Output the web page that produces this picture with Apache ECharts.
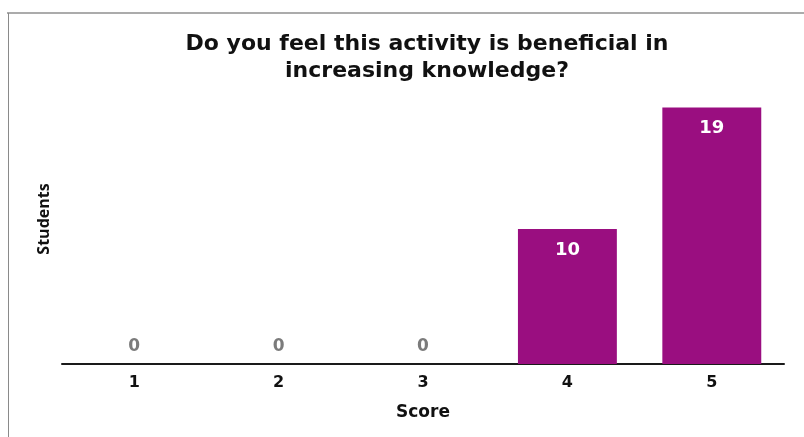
<!DOCTYPE html>
<html>
<head>
<meta charset="utf-8">
<script src="https://cdn.jsdelivr.net/npm/echarts@6/dist/echarts.min.js"></script>
<style>
html,body{margin:0;padding:0;background:#fff;}
#c{width:804px;height:437px;}
</style>
</head>
<body>
<div id="c"></div>
<script>
const categories = ['1', '2', '3', '4', '5'];
const students = [0, 0, 0, 10, 19];
const titleText = 'Do you feel this activity is beneficial in\nincreasing knowledge?';
const xName = 'Score';
const yName = 'Students';

const chart = echarts.init(document.getElementById('c'), null, {renderer: 'canvas'});
const font = '"DejaVu Sans", "Open Sans", sans-serif';
const fontOS = '"Open Sans", "DejaVu Sans", sans-serif';

const barData = students.map(v => {
  if (v === 0) {
    return {value: v, label: {position: 'top', distance: 9, color: '#7b7b7b', fontSize: 17}};
  }
  return {value: v, label: {position: 'insideTop', distance: 12, color: '#ffffff'}};
});

chart.setOption({
  animation: false,
  backgroundColor: '#ffffff',
  title: {
    text: titleText,
    left: 422,
    top: 26,
    textAlign: 'center',
    textStyle: {fontFamily: font, fontSize: 22, fontWeight: 'bold', color: '#111', lineHeight: 27}
  },
  graphic: [
    {type: 'line', shape: {x1: 7, y1: 13, x2: 804, y2: 13}, style: {stroke: '#ababab', lineWidth: 2}},
    {type: 'line', shape: {x1: 8.5, y1: 13, x2: 8.5, y2: 437}, style: {stroke: '#8a8a8a', lineWidth: 1}}
  ],
  grid: {left: 62, right: 20, top: 94, bottom: 73},
  xAxis: {
    type: 'category',
    data: categories,
    name: xName,
    nameLocation: 'middle',
    nameGap: 40,
    nameTextStyle: {fontFamily: font, fontSize: 17, fontWeight: 'bold', color: '#111'},
    axisLine: {lineStyle: {color: '#1a1a1a', width: 2}},
    axisTick: {show: false},
    axisLabel: {fontFamily: font, fontSize: 16, fontWeight: 'bold', color: '#111', margin: 11}
  },
  yAxis: {
    type: 'value',
    min: 0,
    max: 20,
    name: yName,
    nameLocation: 'middle',
    nameGap: 10,
    nameTextStyle: {fontFamily: fontOS, fontSize: 16, fontWeight: 'bold', color: '#111', padding: [0, 0, 0, 20]},
    axisLine: {show: false},
    axisTick: {show: false},
    axisLabel: {show: false},
    splitLine: {show: false}
  },
  series: [{
    type: 'bar',
    data: barData,
    barWidth: '68.5%',
    itemStyle: {color: '#9a0e80'},
    label: {show: true, fontFamily: font, fontSize: 18, fontWeight: 'bold'}
  }]
});
</script>
</body>
</html>
